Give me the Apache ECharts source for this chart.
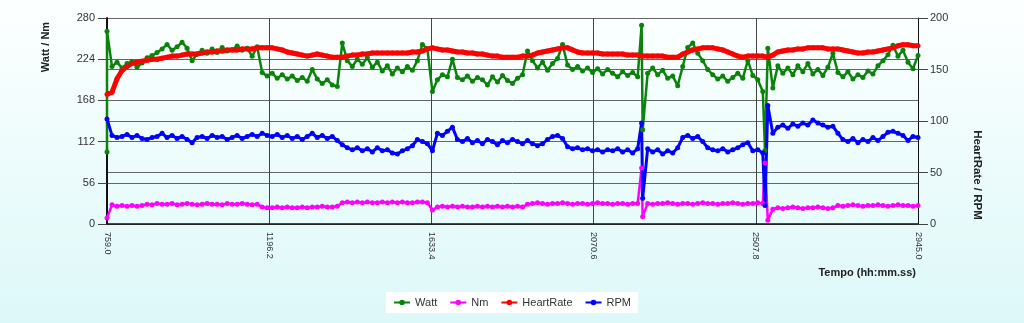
<!DOCTYPE html>
<html>
<head>
<meta charset="utf-8">
<script src="https://cdn.jsdelivr.net/npm/echarts@6/dist/echarts.min.js"></script>
<style>
  html, body { margin: 0; padding: 0; }
  #chart { width: 1024px; height: 323px; }
</style>
</head>
<body>
<div id="chart"></div>
<script>
// Session time range (seconds) and axis ticks
const T_START = 759.0;
const T_END = 2945.0;
const xTicks = [759.0, 1196.2, 1633.4, 2070.6, 2507.8, 2945.0];
const leftTicks = [0, 56, 112, 168, 224, 280];
const rightTicks = [0, 50, 100, 150, 200];

// Readings on a regular sampling clock from T_START to T_END
const watt = [
  262, 214, 220, 212, 218, 221, 213, 219, 226, 229,
  233, 238, 244, 236, 241, 247, 239, 222, 231, 236,
  232, 238, 233, 240, 235, 237, 242, 236, 239, 228,
  241, 206, 201, 205, 198, 203, 197, 201, 195, 199,
  194, 210, 197, 191, 196, 189, 187, 246, 222, 214,
  224, 217, 226, 213, 220, 208, 215, 204, 212, 207,
  214, 209, 222, 244, 238, 180, 196, 203, 200, 224,
  199, 196, 201, 194, 199, 196, 189, 200, 193, 202,
  195, 191, 198, 203, 235, 222, 212, 220, 209, 218,
  225, 244, 216, 210, 214, 208, 212, 206, 211, 204,
  210, 205, 200, 207, 202, 206, 200, 128, 205, 212,
  203, 209, 198, 201, 188, 214, 240, 246, 232, 222,
  210, 203, 197, 201, 194, 199, 205, 198, 222, 202,
  196, 180, 239, 185, 215, 205, 212, 203, 215, 207,
  218, 204, 210, 202, 213, 232, 206, 200, 207, 197,
  203, 199, 208, 204, 215, 222, 230, 243, 228, 236,
  220, 211, 229
];

const nm = [
  8, 26, 24, 25, 24, 25, 24, 25,
  27, 26, 28, 27, 27, 28, 26, 27, 28, 27, 26, 27, 28, 27, 27, 26, 28, 27, 27, 28, 27, 26, 27,
  23, 22, 22, 23, 22, 23, 22, 22, 23, 22, 23, 23, 24, 23, 23, 24,
  29, 30, 29, 30, 29, 30, 29, 29, 30, 29, 30, 29, 30, 29, 29, 30, 30, 29, 19,
  23, 24, 23, 24, 23, 24, 23, 23, 24, 23, 24, 23, 24, 23, 24, 23, 24, 23,
  27, 28, 29, 28, 27, 28, 28, 29, 28, 27, 28, 28, 27, 28, 29, 28, 28, 27, 28, 28, 27, 28, 28,
  10,
  28, 27, 28, 28, 29, 28, 27, 28, 28, 27, 28, 29, 28, 28, 27, 28, 28, 29, 28, 27, 28, 28, 29, 28,
  5,
  20, 22, 21, 22, 23, 22, 21, 22, 22, 23, 22, 21, 22,
  25, 24, 25, 26, 25, 24, 25, 25, 26, 25, 24, 25, 26, 25, 25, 24, 25
];

const heartRate = [
  126, 128, 141, 149, 153, 156, 157, 158, 159, 160,
  160, 161, 162, 163, 163, 164, 165, 165, 165, 166,
  167, 167, 168, 168, 169, 169, 169, 170, 170, 170,
  171, 171, 171, 171, 170, 169, 167, 166, 165, 164,
  163, 164, 165, 164, 163, 162, 162, 162, 163, 164,
  164, 165, 165, 166, 166, 166, 166, 166, 166, 166,
  166, 167, 167, 168, 170, 171, 170, 169, 169, 168,
  167, 167, 166, 166, 165, 165, 164, 163, 163, 162,
  162, 162, 162, 163, 163, 164, 166, 167, 168, 169,
  170, 171, 171, 169, 167, 166, 166, 166, 166, 165,
  165, 165, 165, 165, 164, 164, 164, 163, 163, 163,
  163, 163, 162, 162, 162, 165, 167, 169, 170, 171,
  171, 171, 170, 169, 167, 165, 163, 162, 163, 163,
  163, 163, 162, 164, 167, 168, 169, 169, 170, 170,
  171, 171, 171, 171, 170, 170, 170, 169, 168, 167,
  166, 166, 167, 167, 168, 169, 170, 171, 173, 174,
  174, 173, 173
];

const rpm = [
  102, 86, 84, 85, 87, 84, 86, 83, 82, 84,
  85, 88, 84, 86, 83, 85, 82, 79, 84, 85,
  83, 86, 84, 85, 82, 84, 86, 83, 85, 87,
  85, 88, 86, 85, 87, 84, 86, 83, 85, 82,
  85, 88, 84, 86, 83, 85, 81, 77, 74, 72,
  74, 71, 73, 70, 74, 71, 72, 69, 68, 71,
  73, 76, 82, 80, 78, 71, 88, 86, 90, 94,
  82, 80, 83, 79, 81, 78, 82, 80, 77, 81,
  79, 82, 80, 78, 81, 78, 76, 78, 82, 85,
  86, 83, 75, 73, 74, 72, 73, 71, 72, 70,
  72, 71, 73, 70, 72, 69, 73, 25, 73, 70,
  72, 68, 71, 69, 74, 84, 86, 83, 85, 80,
  74, 72, 71, 73, 70, 72, 74, 77, 79, 71,
  72, 69, 115, 88, 94, 96, 93, 97, 95, 98,
  96, 101, 98, 96, 94, 95, 88, 82, 80, 83,
  79, 82, 80, 84, 81, 85, 89, 90, 88, 86,
  81, 85, 84
];

// Additional readings between clock samples (start-up and sensor drop-outs)
const wattExtra = [[759.0, 98], [2200.0, 270], [2532.6, 100]];
const nmExtra = [[2200.0, 76], [2532.6, 83]];
const heartRateExtra = [];
const rpmExtra = [[2200.0, 98], [2532.6, 18]];

const SAMPLE_STEP = (T_END - T_START) / 162;

// Axis runs in seconds elapsed since T_START; labels add the offset back.
function buildSeries(values, extra) {
  const pts = extra.map(([t, v]) => [t - T_START, v]);
  values.forEach((v, i) => pts.push([Math.min(i * SAMPLE_STEP, T_END - T_START), v]));
  pts.sort((a, b) => a[0] - b[0]);
  return pts;
}

const FONT = "'Liberation Sans', Arial, sans-serif";

function lineSeries(name, values, extra, color, yAxisIndex, width, size) {
  return {
    name: name,
    type: 'line',
    yAxisIndex: yAxisIndex,
    data: buildSeries(values, extra),
    symbol: 'circle',
    symbolSize: size,
    showSymbol: true,
    showAllSymbol: true,
    lineStyle: { color: color, width: width },
    itemStyle: { color: color },
    emphasis: { disabled: true },
    animation: false
  };
}

const chart = echarts.init(document.getElementById('chart'));
chart.setOption({
  backgroundColor: new echarts.graphic.LinearGradient(0, 0, 0, 1, [
    { offset: 0, color: '#fdffff' },
    { offset: 1, color: '#ddf8f9' }
  ]),
  textStyle: { fontFamily: FONT },
  grid: {
    left: 107, right: 106, top: 18, bottom: 99,
    show: true,
    borderWidth: 0,
    backgroundColor: new echarts.graphic.LinearGradient(0, 0, 0, 1, [
      { offset: 0, color: '#fbffff' },
      { offset: 1, color: '#e6fbfb' }
    ])
  },
  legend: {
    bottom: 10,
    left: 'center',
    backgroundColor: '#ffffff',
    padding: [5, 7],
    itemWidth: 16,
    itemHeight: 7,
    itemGap: 12,
    textStyle: { fontSize: 11, color: '#333', fontFamily: FONT },
    data: ['Watt', 'Nm', 'HeartRate', 'RPM']
  },
  xAxis: {
    type: 'value',
    min: 0,
    max: xTicks[xTicks.length - 1] - xTicks[0],
    interval: xTicks[1] - xTicks[0],
    axisLine: { show: true, onZero: false, lineStyle: { color: '#111', width: 1.5 } },
    axisTick: { show: false },
    splitLine: { show: true, lineStyle: { color: '#444', width: 1 } },
    axisLabel: {
      rotate: -90,
      margin: 8,
      fontSize: 9,
      color: '#333',
      fontFamily: FONT,
      formatter: v => (v + T_START).toFixed(1)
    }
  },
  yAxis: [
    {
      type: 'value',
      min: leftTicks[0],
      max: leftTicks[leftTicks.length - 1],
      interval: leftTicks[1] - leftTicks[0],
      axisLine: { show: true, lineStyle: { color: '#111', width: 2 } },
      axisTick: { show: true, length: 9, lineStyle: { color: '#444' } },
      splitLine: { show: true, lineStyle: { color: '#666', width: 1 } },
      axisLabel: { fontSize: 11, color: '#333', margin: 12, fontFamily: FONT }
    },
    {
      type: 'value',
      min: rightTicks[0],
      max: rightTicks[rightTicks.length - 1],
      interval: rightTicks[1] - rightTicks[0],
      position: 'right',
      axisLine: { show: true, lineStyle: { color: '#111', width: 1 } },
      axisTick: { show: true, length: 10, lineStyle: { color: '#444' } },
      splitLine: { show: true, lineStyle: { color: '#666', width: 1 } },
      axisLabel: { fontSize: 11, color: '#333', margin: 12, fontFamily: FONT }
    }
  ],
  graphic: [
    {
      type: 'text', x: 46, y: 47, rotation: Math.PI / 2,
      style: { text: 'Watt / Nm', font: 'bold 11px ' + FONT, fill: '#222', align: 'center', verticalAlign: 'middle' }
    },
    {
      type: 'text', x: 977, y: 175, rotation: -Math.PI / 2,
      style: { text: 'HeartRate / RPM', font: 'bold 11.5px ' + FONT, fill: '#222', align: 'center', verticalAlign: 'middle' }
    },
    {
      type: 'text', x: 916, y: 273,
      style: { text: 'Tempo (hh:mm.ss)', font: 'bold 11px ' + FONT, fill: '#222', align: 'right', verticalAlign: 'middle' }
    }
  ],
  series: [
    lineSeries('Watt', watt, wattExtra, '#0b830b', 0, 2.5, 5),
    lineSeries('Nm', nm, nmExtra, '#ff00ff', 0, 2.5, 5),
    lineSeries('HeartRate', heartRate, heartRateExtra, '#ff0000', 1, 5, 5),
    lineSeries('RPM', rpm, rpmExtra, '#0000ff', 1, 3, 5)
  ]
});
</script>
</body>
</html>
